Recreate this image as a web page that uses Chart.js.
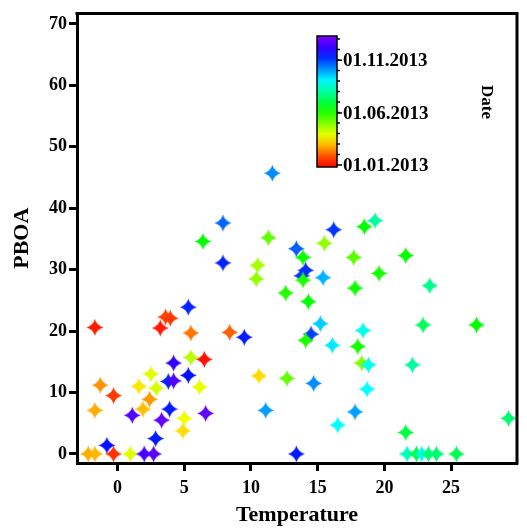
<!DOCTYPE html>
<html>
<head>
<meta charset="utf-8">
<script src="https://cdn.jsdelivr.net/npm/chart.js@4.4.0/dist/chart.umd.min.js"></script>
<style>
    html, body { margin: 0; padding: 0; background: #fff; }
</style>
</head>
<body>
<canvas id="scatterChart" width="527" height="529"></canvas>
<script>
// Data
const temperature = [
    -1.7, 3.6, 3.95, 3.2, 5.3, 5.5, 8.4, 4.2, 5.5, 6.5,
    2.5, 5.3, 3.8, 4.2, 1.6, 2.9, 6.15, -1.3, -0.3, 2.4,
    1.9, -1.7, 1.1, 3.9, 3.3, 6.6, 5.0, 4.9, 2.85, -0.8,
    -2.2, -1.7, -0.3, 0.95, 2.0, 2.7,
    9.5, 10.6, 12.7, 11.1, 13.4, 12.6, 14.3, 15.2, 14.5, 14.1,
    16.1, 14.7, 16.5, 11.6, 16.2, 18.5, 19.3, 11.3, 15.5, 13.4,
    13.9, 17.7, 10.5, 10.4, 14.1, 13.8, 13.9, 15.4, 17.8, 21.6,
    19.6, 23.4, 22.9, 26.9, 18.4, 18.0, 18.3, 18.8, 22.1, 18.7,
    17.8, 21.6, 29.3, 21.7, 22.4, 22.8, 23.3, 23.9, 25.4, 6.4,
    7.9, 7.9
];
const pboa = [
    20.6, 22.3, 22.1, 20.5, 23.9, 19.7, 19.8, 14.8, 15.7, 15.4,
    13.0, 12.8, 11.8, 11.9, 11.0, 10.7, 10.9, 11.2, 9.5, 8.9,
    7.3, 7.1, 6.3, 7.3, 5.5, 6.6, 5.8, 3.75, 2.5, 1.4,
    0, 0, 0, 0, 0, 0,
    19.0, 12.7, 12.3, 7.1, 0, 26.2, 24.8, 21.2, 19.5, 18.5,
    17.7, 11.5, 4.7, 45.7, 36.5, 37.0, 38.0, 35.2, 34.3, 33.4,
    32.0, 32.0, 30.7, 28.5, 29.9, 29.0, 28.3, 28.7, 27.0, 32.3,
    29.4, 27.4, 21.0, 21.0, 20.1, 17.5, 14.8, 14.5, 14.5, 10.55,
    6.85, 3.5, 5.8, 0, 0, 0, 0, 0, 0, 34.6,
    31.1, 37.6
];
// months after 01.01.2013 (colour of each point)
const dateMonth = [
    0.3, 0.7, 0.6, 0.3, 10.3, 1.2, 1.0, 11.2, 3.4, 0.2,
    3.0, 10.5, 10.3, 11.5, 2.4, 3.1, 2.9, 1.5, 0.6, 1.6,
    2.0, 1.8, 11.5, 10.4, 11.7, 11.7, 2.8, 2.3, 10.4, 10.5,
    1.8, 1.9, 0.5, 3.0, 11.4, 11.6,
    10.4, 2.3, 4.3, 9.0, 10.4, 5.0, 5.3, 8.5, 10.0, 5.0,
    8.2, 9.2, 8.0, 9.2, 10.1, 5.4, 7.0, 4.3, 3.8, 9.7,
    5.2, 4.4, 3.6, 3.8, 10.2, 10.1, 5.0, 8.8, 5.2, 5.3,
    5.1, 6.8, 6.3, 5.3, 7.8, 5.1, 4.0, 7.8, 7.0, 8.0,
    9.0, 6.0, 6.5, 7.3, 6.0, 7.8, 6.6, 6.5, 6.2, 5.4,
    10.3, 9.6
];
const xTicks = [0, 5, 10, 15, 20, 25];
const yTicks = [0, 10, 20, 30, 40, 50, 60, 70];
const colorbarTicks = [0, 4.96, 9.99];
const colorbarLabels = ['01.01.2013', '01.06.2013', '01.11.2013'];

const serif = '"Liberation Serif", "Times New Roman", serif';
const monthMin = -0.19, monthMax = 12.29;

function monthColor(m) {
    const hue = Math.max(0, Math.min(270, m / 12 * 270));
    return 'hsl(' + hue.toFixed(1) + ', 100%, 50%)';
}

// four pointed star marker
const starCache = {};
function starImage(color) {
    if (starCache[color]) return starCache[color];
    const r = 8.5;
    const size = Math.ceil(2 * r + 2);
    const c = document.createElement('canvas');
    c.width = size;
    c.height = size;
    const g = c.getContext('2d');
    const m = size / 2, k = r * 0.22;
    g.beginPath();
    g.moveTo(m, m - r);
    g.quadraticCurveTo(m + k, m - k, m + r, m);
    g.quadraticCurveTo(m + k, m + k, m, m + r);
    g.quadraticCurveTo(m - k, m + k, m - r, m);
    g.quadraticCurveTo(m - k, m - k, m, m - r);
    g.closePath();
    g.fillStyle = color;
    g.fill();
    starCache[color] = c;
    return c;
}

const points = temperature.map((t, i) => ({ x: t, y: pboa[i] }));
const pointColors = dateMonth.map(monthColor);

// frame on top/right plus the date colour bar
const extrasPlugin = {
    id: 'extras',
    afterDraw(chart) {
        const { ctx, chartArea: a } = chart;
        ctx.save();
        ctx.strokeStyle = '#000';
        ctx.lineWidth = 3;
        ctx.beginPath();
        ctx.moveTo(a.left - 1.5, a.top);
        ctx.lineTo(a.right, a.top);
        ctx.lineTo(a.right, a.bottom + 1.5);
        ctx.stroke();

        // colour bar
        const bx = 317, bw = 20, top = 36, bottom = 167;
        const yOf = m => bottom - (m - monthMin) / (monthMax - monthMin) * (bottom - top);
        const grad = ctx.createLinearGradient(0, bottom, 0, top);
        for (let i = 0; i <= 12; i++) {
            const m = monthMin + (monthMax - monthMin) * i / 12;
            grad.addColorStop(i / 12, monthColor(m));
        }
        ctx.fillStyle = grad;
        ctx.fillRect(bx, top, bw, bottom - top);
        ctx.lineWidth = 1.5;
        ctx.strokeRect(bx, top, bw, bottom - top);

        ctx.beginPath();
        for (let m = 0; m <= 12; m++) {
            const y = yOf(m);
            ctx.moveTo(bx + bw, y);
            ctx.lineTo(bx + bw + 3, y);
        }
        colorbarTicks.forEach(m => {
            ctx.moveTo(bx + bw, yOf(m));
            ctx.lineTo(bx + bw + 5, yOf(m));
        });
        ctx.stroke();

        ctx.fillStyle = '#000';
        ctx.font = 'bold 19px ' + serif;
        ctx.textAlign = 'left';
        ctx.textBaseline = 'middle';
        colorbarTicks.forEach((m, i) => {
            ctx.fillText(colorbarLabels[i], bx + bw + 6, yOf(m) + 1);
        });

        ctx.translate(486, 102);
        ctx.rotate(Math.PI / 2);
        ctx.textAlign = 'center';
        ctx.font = 'bold 17px ' + serif;
        ctx.fillText('Date', 0, 0);
        ctx.restore();
    }
};

const axisCommon = {
    type: 'linear',
    grid: {
        display: true,
        drawOnChartArea: false,
        drawTicks: true,
        tickLength: 8,
        tickWidth: 3,
        color: '#000'
    },
    border: { display: true, color: '#000', width: 3 }
};

new Chart(document.getElementById('scatterChart'), {
    type: 'scatter',
    data: {
        datasets: [{
            label: 'PBOA',
            data: points,
            pointStyle: ctx => starImage(pointColors[ctx.dataIndex]),
            pointRadius: 9,
            pointHoverRadius: 9
        }]
    },
    options: {
        responsive: false,
        animation: false,
        devicePixelRatio: 1,
        layout: { padding: { top: 13.5, right: 1.5, left: 0, bottom: 0 } },
        plugins: {
            legend: { display: false },
            tooltip: { enabled: false }
        },
        scales: {
            x: {
                ...axisCommon,
                position: 'bottom',
                min: -3.04,
                max: 29.94,
                afterBuildTicks: s => { s.ticks = xTicks.map(v => ({ value: v })); },
                afterFit: s => { s.height = 66; },
                ticks: {
                    color: '#000',
                    padding: 7,
                    font: { family: serif, size: 18, weight: 'bold' }
                },
                title: {
                    display: true,
                    text: 'Temperature',
                    color: '#000',
                    padding: { top: 0, bottom: 0 },
                    font: { family: serif, size: 22, weight: 'bold' }
                }
            },
            y: {
                ...axisCommon,
                position: 'left',
                min: -1.47,
                max: 71.7,
                afterBuildTicks: s => { s.ticks = yTicks.map(v => ({ value: v })); },
                afterFit: s => { s.width = 77; },
                ticks: {
                    color: '#000',
                    padding: 2,
                    font: { family: serif, size: 18, weight: 'bold' }
                },
                title: {
                    display: true,
                    text: 'PBOA',
                    color: '#000',
                    padding: { top: 9, bottom: 0 },
                    font: { family: serif, size: 22, weight: 'bold' }
                }
            }
        }
    },
    plugins: [extrasPlugin]
});
</script>
</body>
</html>
